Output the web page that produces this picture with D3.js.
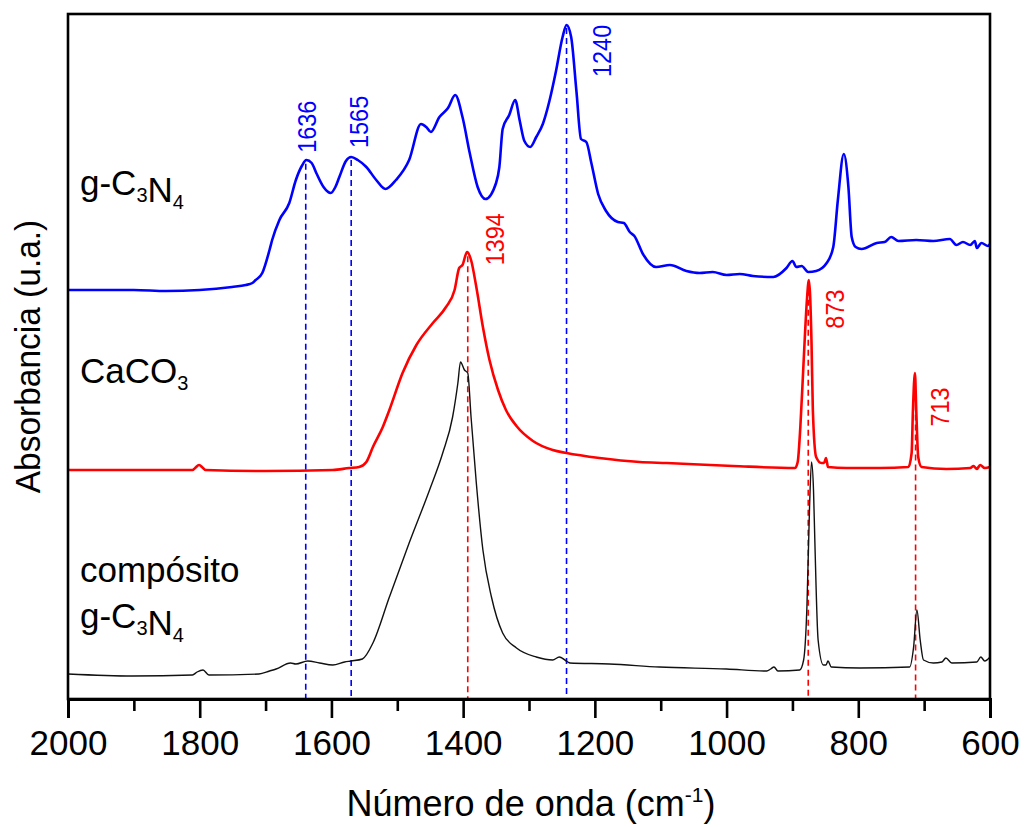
<!DOCTYPE html>
<html>
<head>
<meta charset="utf-8">
<script src="https://cdn.jsdelivr.net/npm/d3@7"></script>
<style>
  html, body { margin: 0; padding: 0; background: #fff; }
  svg { display: block; font-family: Arial, "Liberation Sans", sans-serif; }
</style>
</head>
<body>
<svg id="chart" width="1025" height="827"></svg>
<script>
// ---------- DATA ----------
// [wavenumber (cm-1), absorbance (u.a., stacked offset)]
const gC3N4 = [[2000,4.09],[1900,4.09],[1851,4.08],[1800,4.09],[1751,4.12],[1730,4.14],[1720,4.16],[1715,4.19],[1705,4.26],[1694,4.49],[1690,4.59],[1679,4.79],[1664,4.96],[1654,5.19],[1645,5.33],[1638,5.39],[1630,5.36],[1623,5.26],[1612,5.12],[1601,5.06],[1594,5.12],[1588,5.22],[1578,5.38],[1570,5.42],[1560,5.39],[1547,5.32],[1532,5.19],[1518,5.10],[1502,5.19],[1482,5.39],[1464,5.75],[1456,5.72],[1449,5.67],[1436,5.82],[1423,5.91],[1412,6.04],[1401,5.82],[1390,5.46],[1378,5.12],[1366,5.00],[1350,5.16],[1345,5.32],[1340,5.70],[1330,5.84],[1321,5.99],[1314,5.78],[1307,5.58],[1298,5.52],[1289,5.62],[1279,5.75],[1269,5.98],[1259,6.28],[1249,6.62],[1243,6.74],[1236,6.62],[1228,6.08],[1221,5.60],[1213,5.57],[1205,5.35],[1195,5.05],[1183,4.88],[1165,4.77],[1156,4.76],[1147,4.67],[1140,4.63],[1127,4.45],[1107,4.32],[1086,4.34],[1061,4.28],[1041,4.26],[1021,4.27],[1000,4.24],[980,4.25],[960,4.23],[929,4.22],[909,4.31],[900,4.38],[894,4.32],[886,4.33],[876,4.27],[864,4.28],[848,4.36],[838,4.52],[831,4.99],[822,5.45],[815,5.12],[810,4.62],[804,4.52],[795,4.50],[772,4.56],[760,4.57],[750,4.62],[739,4.58],[712,4.59],[686,4.58],[661,4.60],[651,4.54],[641,4.57],[630,4.54],[623,4.58],[620,4.51],[613,4.56],[603,4.53],[600,4.55]];

const caCO3 = [[2000,2.29],[1900,2.29],[1811,2.29],[1807,2.31],[1801,2.34],[1795,2.31],[1791,2.29],[1700,2.28],[1598,2.29],[1573,2.31],[1558,2.32],[1547,2.37],[1537,2.52],[1522,2.72],[1512,2.89],[1492,3.26],[1471,3.54],[1446,3.76],[1426,3.92],[1413,4.09],[1406,4.31],[1401,4.34],[1394,4.47],[1388,4.39],[1380,4.12],[1370,3.72],[1360,3.39],[1347,3.09],[1335,2.89],[1319,2.73],[1294,2.58],[1264,2.49],[1243,2.46],[1193,2.41],[1132,2.37],[1091,2.36],[990,2.33],[896,2.31],[892,2.37],[888,2.72],[884,3.24],[881,3.64],[878,3.99],[875,4.19],[871,3.56],[869,2.89],[864,2.42],[856,2.36],[852,2.36],[849,2.41],[846,2.32],[818,2.31],[767,2.31],[724,2.32],[719,2.46],[717,2.89],[714,3.26],[712,2.89],[709,2.42],[704,2.32],[666,2.30],[630,2.31],[625,2.33],[620,2.30],[615,2.34],[608,2.31],[600,2.32]];

const composite = [[2000,0.25],[1902,0.23],[1811,0.24],[1804,0.27],[1795,0.29],[1786,0.24],[1710,0.25],[1694,0.28],[1684,0.30],[1662,0.36],[1654,0.35],[1636,0.38],[1618,0.36],[1598,0.34],[1580,0.37],[1570,0.38],[1553,0.40],[1537,0.56],[1512,1.02],[1482,1.56],[1451,2.09],[1431,2.46],[1416,2.82],[1408,3.16],[1404,3.37],[1398,3.29],[1393,3.26],[1388,2.82],[1380,2.16],[1370,1.49],[1357,1.02],[1340,0.66],[1319,0.51],[1289,0.42],[1264,0.39],[1254,0.42],[1241,0.37],[1238,0.36],[1178,0.35],[1102,0.32],[1000,0.30],[939,0.28],[933,0.30],[928,0.32],[922,0.28],[889,0.29],[883,0.39],[878,0.92],[874,1.92],[871,2.37],[868,2.09],[866,1.59],[861,0.59],[853,0.34],[849,0.34],[846,0.38],[841,0.32],[798,0.31],[722,0.32],[716,0.52],[711,0.89],[706,0.59],[701,0.39],[686,0.36],[673,0.37],[667,0.41],[658,0.36],[620,0.37],[614,0.42],[608,0.38],[600,0.42]];

// Marked peaks: where the dashed line sits, the printed label, and which spectrum it belongs to
const peakPositions = [1639, 1570, 1243, 1393, 876, 713];
const peakLabels    = ["1636", "1565", "1240", "1394", "873", "713"];
const peakSeries    = ["g", "g", "g", "c", "c", "c"];

const majorTicks = [2000, 1800, 1600, 1400, 1200, 1000, 800, 600];
const minorTicks = [1900, 1700, 1500, 1300, 1100, 900, 700];

const xTitle = "Número de onda (cm";
const yTitle = "Absorbancia (u.a.)";

// ---------- LAYOUT ----------
const M = { left: 68, right: 990, top: 14, bottom: 699 };
const svg = d3.select("#chart");

const x = d3.scaleLinear().domain([2000, 600]).range([M.left, M.right]);
const y = d3.scaleLinear().domain([0, 6.85]).range([M.bottom, M.top]);

const colors = { g: "#0000ff", c: "#ff0000", k: "#000000" };
const seriesData = { g: gC3N4, c: caCO3, k: composite };

function interp(data, wn) {
  for (let i = 0; i < data.length - 1; i++) {
    const a = data[i], b = data[i + 1];
    if (wn <= a[0] && wn >= b[0]) {
      const t = (a[0] - wn) / (a[0] - b[0]);
      return a[1] + t * (b[1] - a[1]);
    }
  }
  return data[data.length - 1][1];
}

// dashed marker lines (drawn under the spectra)
const labelOffsets = [[10, -8], [17, -9], [44, 52], [36, 12], [36, 42], [33, 35]];
const gDash = svg.append("g");
peakPositions.forEach((p, i) => {
  const s = peakSeries[i];
  const v = interp(seriesData[s], p);
  gDash.append("line")
    .attr("x1", x(p)).attr("x2", x(p))
    .attr("y1", y(v) + 3).attr("y2", M.bottom)
    .attr("stroke", colors[s]).attr("stroke-width", 1.6)
    .attr("stroke-dasharray", "6,4");
});

// spectra
const line = d3.line().x(d => x(d[0])).y(d => y(d[1])).curve(d3.curveMonotoneX);
svg.append("path").datum(composite).attr("d", line)
  .attr("fill", "none").attr("stroke", "#111").attr("stroke-width", 1.4);
svg.append("path").datum(caCO3).attr("d", line)
  .attr("fill", "none").attr("stroke", colors.c).attr("stroke-width", 2.6);
svg.append("path").datum(gC3N4).attr("d", line)
  .attr("fill", "none").attr("stroke", colors.g).attr("stroke-width", 2.6);

// peak labels
peakPositions.forEach((p, i) => {
  const s = peakSeries[i];
  const v = interp(seriesData[s], p);
  const [dx, dy] = labelOffsets[i];
  svg.append("text")
    .attr("transform", `translate(${x(p) + dx},${y(v) + dy}) rotate(-90) scale(0.92,1)`)
    .attr("font-size", 25.5)
    .attr("fill", colors[s])
    .text(peakLabels[i]);
});

// frame
svg.append("rect")
  .attr("x", M.left).attr("y", M.top)
  .attr("width", M.right - M.left).attr("height", M.bottom - M.top)
  .attr("fill", "none").attr("stroke", "#000").attr("stroke-width", 2.6);

// axes
const axMajor = svg.append("g").attr("transform", `translate(0,${M.bottom})`)
  .call(d3.axisBottom(x).tickValues(majorTicks).tickSize(19).tickFormat(d3.format("d")));
axMajor.select(".domain").attr("stroke-width", 3);
axMajor.selectAll(".tick line").attr("stroke-width", 2.6);
axMajor.selectAll(".tick text")
  .attr("y", 56).attr("dy", 0)
  .attr("font-size", 35).attr("font-family", "Arial, 'Liberation Sans', sans-serif")
  .attr("fill", "#000");

const axMinor = svg.append("g").attr("transform", `translate(0,${M.bottom})`)
  .call(d3.axisBottom(x).tickValues(minorTicks).tickSize(12).tickFormat(""));
axMinor.select(".domain").remove();
axMinor.selectAll(".tick line").attr("stroke-width", 2.6);

// x title
const xt = svg.append("text")
  .attr("x", (M.left + M.right) / 2 + 2).attr("y", 816)
  .attr("text-anchor", "middle").attr("font-size", 36).attr("fill", "#000");
xt.append("tspan").text(xTitle);
xt.append("tspan").attr("font-size", 21).attr("dy", -14).text("-1");
xt.append("tspan").attr("dy", 14).text(")");

// y title
svg.append("text")
  .attr("transform", `translate(40,${(M.top + M.bottom) / 2}) rotate(-90) scale(0.93,1)`)
  .attr("text-anchor", "middle").attr("font-size", 36).attr("fill", "#000")
  .text(yTitle);

// series labels
function chem(parent, parts) {
  parts.forEach(([t, sub]) => {
    if (sub) {
      parent.append("tspan").attr("font-size", 20).attr("dy", 7).text(t);
      parent.append("tspan").attr("dy", -7).text("");
    } else {
      parent.append("tspan").text(t);
    }
  });
}
const lab1 = svg.append("text").attr("x", 80).attr("y", 195).attr("font-size", 35).attr("fill", "#000");
chem(lab1, [["g-C"], ["3", 1], ["N"], ["4", 1]]);
const lab2 = svg.append("text").attr("x", 80).attr("y", 383).attr("font-size", 35).attr("fill", "#000");
chem(lab2, [["CaCO"], ["3", 1]]);
svg.append("text").attr("x", 80).attr("y", 582).attr("font-size", 35).attr("fill", "#000").text("compósito");
const lab4 = svg.append("text").attr("x", 80).attr("y", 628).attr("font-size", 35).attr("fill", "#000");
chem(lab4, [["g-C"], ["3", 1], ["N"], ["4", 1]]);
</script>
</body>
</html>
